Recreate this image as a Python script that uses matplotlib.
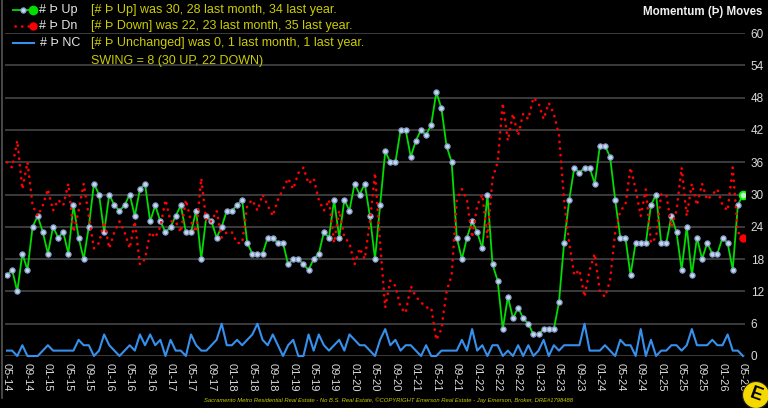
import numpy as np
import matplotlib
matplotlib.use("Agg")
import matplotlib.pyplot as plt
from matplotlib.lines import Line2D
from matplotlib.patches import Ellipse

plt.rcParams["font.family"] = ["Liberation Sans", "DejaVu Sans"]

# monthly counts, 05-14 .. 05-26
up = [15, 16, 12, 19, 16, 24, 26, 23, 19, 24, 22, 23, 19, 28, 22, 18, 24, 32, 30, 23,
      30, 28, 27, 28, 30, 26, 31, 32, 25, 28, 25, 23, 24, 26, 28, 23, 23, 27, 18, 26,
      25, 22, 24, 27, 27, 28, 29, 21, 19, 19, 19, 22, 22, 21, 21, 17, 18, 18, 17, 16,
      18, 19, 23, 22, 29, 22, 29, 27, 32, 30, 32, 26, 18, 28, 38, 36, 36, 42, 42, 37,
      40, 42, 41, 43, 49, 46, 39, 36, 22, 18, 22, 25, 23, 20, 30, 17, 14, 5, 11, 7,
      9, 7, 6, 4, 4, 5, 5, 5, 10, 21, 29, 35, 34, 35, 35, 32, 39, 39, 37, 29,
      22, 22, 15, 21, 21, 21, 28, 30, 21, 21, 26, 23, 16, 24, 15, 22, 18, 21, 19, 19,
      22, 21, 16, 28, 30]

down = [36, 35, 40, 31, 36, 28, 26, 28, 31, 27, 29, 28, 32, 23, 27, 32, 26, 20, 21, 25,
        20, 23, 25, 23, 20, 25, 17, 18, 23, 22, 24, 29, 25, 25, 23, 29, 25, 23, 33, 25,
        25, 27, 22, 23, 23, 21, 21, 28, 29, 27, 30, 28, 26, 29, 31, 33, 31, 34, 35, 32,
        33, 29, 27, 29, 21, 27, 22, 21, 17, 20, 18, 25, 34, 21, 9, 14, 13, 9, 8, 13,
        11, 10, 9, 9, 3, 5, 12, 15, 29, 31, 29, 22, 28, 30, 22, 33, 36, 47, 40, 45,
        41, 45, 44, 48, 47, 44, 47, 45, 41, 29, 21, 15, 16, 11, 16, 19, 12, 11, 14, 23,
        27, 28, 35, 31, 26, 31, 21, 22, 30, 30, 24, 27, 35, 26, 32, 28, 32, 29, 30, 31,
        28, 27, 35, 23, 22]

unchanged = [1, 1, 0, 2, 0, 0, 0, 1, 2, 1, 1, 1, 1, 1, 3, 2, 2, 0, 1, 4,
             2, 1, 0, 1, 2, 1, 4, 2, 4, 2, 3, 0, 3, 1, 1, 0, 4, 2, 1, 1,
             2, 3, 6, 2, 2, 3, 2, 3, 4, 6, 3, 2, 4, 2, 0, 2, 3, 0, 0, 4,
             1, 4, 2, 1, 2, 3, 1, 4, 3, 2, 2, 1, 0, 3, 5, 2, 3, 1, 2, 2,
             1, 0, 2, 0, 0, 1, 1, 1, 1, 3, 1, 5, 1, 2, 0, 2, 2, 0, 1, 0,
             2, 0, 2, 0, 1, 3, 0, 2, 1, 2, 2, 2, 2, 6, 1, 1, 1, 2, 1, 0,
             3, 2, 2, 0, 5, 0, 3, 0, 1, 1, 2, 2, 1, 2, 5, 2, 2, 2, 3, 2,
             2, 4, 1, 1, 0]

tick_labels = ["05-14", "09-14", "01-15", "05-15", "09-15", "01-16", "05-16", "09-16",
               "01-17", "05-17", "09-17", "01-18", "05-18", "09-18", "01-19", "05-19",
               "09-19", "01-20", "05-20", "09-20", "01-21", "05-21", "09-21", "01-22",
               "05-22", "09-22", "01-23", "05-23", "09-23", "01-24", "05-24", "09-24",
               "01-25", "05-25", "09-25", "01-26", "05-26"]

x = np.arange(len(up))

W, H = 768, 408
fig = plt.figure(figsize=(W / 100, H / 100), dpi=100, facecolor="black")


def fx(px):
    return px / W


def fy(py):
    return 1 - py / H


ax = fig.add_axes([fx(5), fy(356), fx(740), (356 - 33) / H])
ax.set_facecolor("black")

dots = (0, (0.1, 2.4))

ax.plot(x, unchanged, color="#3690ec", lw=1.5, zorder=3, clip_on=False)
ax.plot(x, up, color="#00dd00", lw=1.3, marker="o", ms=3.8, mfc="#c4d4ec",
        mec="#7f98c4", mew=0.8, zorder=4)
ax.plot(x, down, color="#ff0000", lw=1.9, linestyle=dots,
        dash_capstyle="round", zorder=5)
ax.plot(x[-1], up[-1], "o", ms=5.5, mfc="#c8e8c8", mec="#00ff00", mew=1.4, zorder=6)
ax.plot(x[-1], down[-1], "o", ms=5, color="#ff0000", zorder=6)

ax.set_xlim(-0.4, 144.4)
ax.set_ylim(0, 60)
ax.set_yticks(range(0, 61, 6))
ax.yaxis.tick_right()
ax.grid(axis="y", color="#404040", lw=1.3, zorder=0)
ax.set_axisbelow(True)
ax.set_xticks(range(0, 145, 4))
ax.set_xticklabels(tick_labels, rotation=-90)
ax.tick_params(axis="x", length=0, pad=5, labelcolor="#d9d9d9", labelsize=8)
ax.tick_params(axis="y", length=0, pad=4, labelcolor="#d9d9d9", labelsize=8.5)
for s in ax.spines.values():
    s.set_visible(False)

# left frame line
fig.add_artist(Line2D([fx(1.5), fx(1.5)], [fy(0), fy(398)], color="#555555", lw=1.2))

# legend block
yel = "#cccc00"
fig.add_artist(Line2D([fx(13), fx(33)], [fy(10), fy(10)], color="#00dd00", lw=1.3))
fig.add_artist(Line2D([fx(23)], [fy(10)], marker="o", ms=3.8, mfc="#c4d4ec", mec="#7f98c4", mew=0.8))
fig.add_artist(Line2D([fx(33)], [fy(10)], marker="o", ms=6, color="#00dd00"))
fig.add_artist(Line2D([fx(15), fx(31)], [fy(26), fy(26)], color="#ff0000", lw=1.9,
                      linestyle=dots, dash_capstyle="round"))
fig.add_artist(Line2D([fx(33)], [fy(26)], marker="o", ms=5, color="#ff0000"))
fig.add_artist(Line2D([fx(13), fx(34)], [fy(43), fy(43)], color="#3690ec", lw=1.5))

fig.text(fx(39), fy(10), "# Þ Up", color="#e6e6e6", fontsize=9, va="center")
fig.text(fx(39), fy(26), "# Þ Dn", color="#e6e6e6", fontsize=9, va="center")
fig.text(fx(40), fy(43), "# Þ NC", color="#e6e6e6", fontsize=9, va="center")
fig.text(fx(91), fy(10), "[# Þ Up] was 30, 28 last month, 34 last year.", color=yel, fontsize=9, va="center")
fig.text(fx(91), fy(26), "[# Þ Down] was 22, 23 last month, 35 last year.", color=yel, fontsize=9, va="center")
fig.text(fx(91), fy(43), "[# Þ Unchanged] was 0, 1 last month, 1 last year.", color=yel, fontsize=9, va="center")
fig.text(fx(91), fy(61), "SWING = 8 (30 UP, 22 DOWN)", color=yel, fontsize=9, va="center")

fig.text(fx(762), fy(12), "Momentum (Þ) Moves", color="#f0f0f0", fontsize=8.3,
         weight="bold", ha="right", va="center")

fig.text(fx(388), fy(400),
         "Sacramento Metro Residential Real Estate - No B.S. Real Estate, ©COPYRIGHT Emerson Real Estate - Jay Emerson, Broker, DRE#1798488",
         color=yel, fontsize=4.2, style="italic", ha="center", va="center")

# logo
fig.add_artist(Ellipse((fx(756), fy(395)), 27 / W, 27 / H, facecolor="#f5d800",
                       edgecolor="#222222", lw=0.8))
fig.text(fx(756), fy(395), "E", color="black", fontsize=13, weight="bold",
         ha="center", va="center", rotation=-20)

fig.savefig("out.png", dpi=100, facecolor="black")
